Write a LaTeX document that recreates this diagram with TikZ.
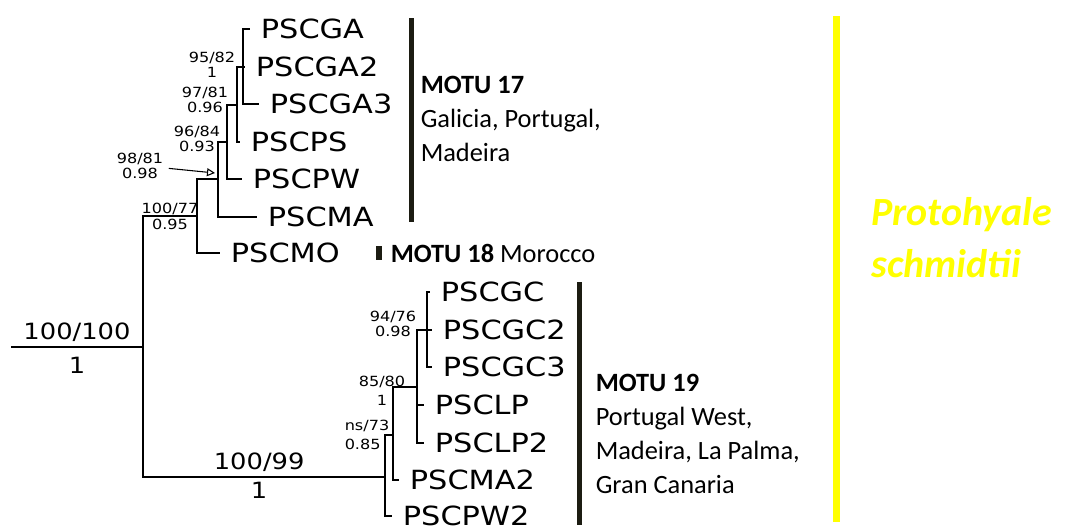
\documentclass[tikz,border=0pt]{standalone}
\usepackage{fontspec}
\newfontfamily\tipfont[FakeStretch=1.15]{DejaVu Sans}
\newfontfamily\motufont{Carlito}
\usetikzlibrary{arrows.meta,positioning}
\definecolor{bardark}{RGB}{28,28,18}
\definecolor{speciesyellow}{RGB}{255,255,0}

\begin{document}
\begin{tikzpicture}[
    x=0.75pt, y=-0.75pt,
    branch/.style={line width=1.5pt},
    tip/.style={anchor=west, inner xsep=8pt, inner ysep=0pt, font=\tipfont\fontsize{19.8}{20}\selectfont},
    supp/.style={inner sep=0pt, align=center, font=\tipfont\fontsize{10.5}{11.25}\selectfont},
    bigsupp/.style={inner sep=0pt, font=\tipfont\fontsize{16.8}{18}\selectfont},
    pointer/.style={line width=0.8pt, -{Triangle[open, length=6pt, width=6pt]}, shorten <=4pt},
    cladebar/.style={line width=3.75pt, bardark},
    motu/.style={inner sep=0pt, align=left, font=\motufont\fontsize{19.8}{25.5}\selectfont},
    species/.style={inner sep=0pt, align=left, text=speciesyellow, font=\motufont\bfseries\itshape\fontsize{30}{39}\selectfont}
]
    \useasboundingbox (0,0) rectangle (1067,525);

    % internal nodes of the tree
    \coordinate (stem) at (11,347);
    \coordinate (root) at (143,347);
    \coordinate (n100) at (197,216);
    \coordinate (n98) at (218,179);
    \coordinate (n96) at (227,141.5);
    \coordinate (n97) at (237,104.5);
    \coordinate (n95) at (243,67);
    \coordinate (n99) at (385,477);
    \coordinate (nns) at (393,435);
    \coordinate (n85) at (417,387);
    \coordinate (n94) at (427,330);
    \coordinate (a98) at (215,173);

    % terminal taxa
    \node[tip] (pscga) at (250,29) {PSCGA};
    \node[tip] (pscga2) at (245,67) {PSCGA2};
    \node[tip] (pscga3) at (259,104) {PSCGA3};
    \node[tip] (pscps) at (240,142) {PSCPS};
    \node[tip] (pscpw) at (242,179) {PSCPW};
    \node[tip] (pscma) at (257,217) {PSCMA};
    \node[tip] (pscmo) at (220,253) {PSCMO};
    \node[tip] (pscgc) at (430,292) {PSCGC};
    \node[tip] (pscgc2) at (432,330) {PSCGC2};
    \node[tip] (pscgc3) at (432,367) {PSCGC3};
    \node[tip] (psclp) at (424,405) {PSCLP};
    \node[tip] (psclp2) at (424,443) {PSCLP2};
    \node[tip] (pscma2) at (399,480) {PSCMA2};
    \node[tip] (pscpw2) at (392,516) {PSCPW2};

    % branches
    \draw[branch] (stem) -- node[bigsupp, above=3.5pt] (s100a) {100/100} node[bigsupp, below=6.5pt] (s1a) {1} (root);
    \draw[branch] (root) |- node[pos=0.75, supp, above=0.5pt] (s100b) {100/77} node[pos=0.75, supp, below=1.5pt] (s095) {0.95} (n100);
    \draw[branch] (root) |- node[pos=0.74, bigsupp, above=3.5pt] (s100c) {100/99} node[pos=0.74, bigsupp, below=3pt] (s1c) {1} (n99);
    \draw[branch] (n100) |- (n98);
    \draw[branch] (n100) |- (pscmo);
    \draw[branch] (n98) |- (n96);
    \draw[branch] (n98) |- (pscma);
    \draw[branch] (n96) |- (n97);
    \draw[branch] (n96) |- (pscpw);
    \draw[branch] (n97) |- (n95);
    \draw[branch] (n97) |- (pscps);
    \foreach \t in {pscga,pscga2,pscga3}
        \draw[branch] (n95) |- (\t);
    \draw[branch] (n99) |- (nns);
    \draw[branch] (n99) |- (pscpw2);
    \draw[branch] (nns) |- (n85);
    \draw[branch] (nns) |- (pscma2);
    \draw[branch] (n85) |- (n94);
    \draw[branch] (n85) |- (psclp);
    \draw[branch] (n85) |- (psclp2);
    \foreach \t in {pscgc,pscgc2,pscgc3}
        \draw[branch] (n94) |- (\t);

    % support values
    \node[supp] (s95) at (212,64.5) {95/82\\1};
    \node[supp] (s97) at (205,100) {97/81\\0.96};
    \node[supp] (s96) at (197,139) {96/84\\0.93};
    \node[supp] (s98) at (140,165.5) {98/81\\0.98};
    \node[supp] (s94) at (393,323.5) {94/76\\0.98};
    \node[supp] (s85) at (382,391) {85/80\\[3pt]1};
    \node[supp, align=left] (sns) at (367,435) {ns/73\\[3pt]0.85};
    \draw[pointer] (s98) -- (a98);

    % MOTU bars and labels
    \draw[cladebar] (411,18) -- (411,222);
    \fill[bardark] (376,246) rectangle (382,260);
    \draw[cladebar] (579.5,282) -- (579.5,525);
    \node[motu, anchor=west] (motu17) at (420.5,118.5) {\textbf{MOTU 17}\\Galicia, Portugal,\\Madeira};
    \node[motu, anchor=west] (motu18) at (390.5,253) {\textbf{MOTU 18} Morocco};
    \node[motu, anchor=west] (motu19) at (595.5,434) {\textbf{MOTU 19}\\Portugal West,\\Madeira, La Palma,\\Gran Canaria};

    % species
    \draw[line width=5.25pt, speciesyellow] (836.5,16) -- (836.5,522);
    \node[species, anchor=west] (species) at (871,237.5) {Protohyale\\schmidtii};
\end{tikzpicture}
\end{document}
